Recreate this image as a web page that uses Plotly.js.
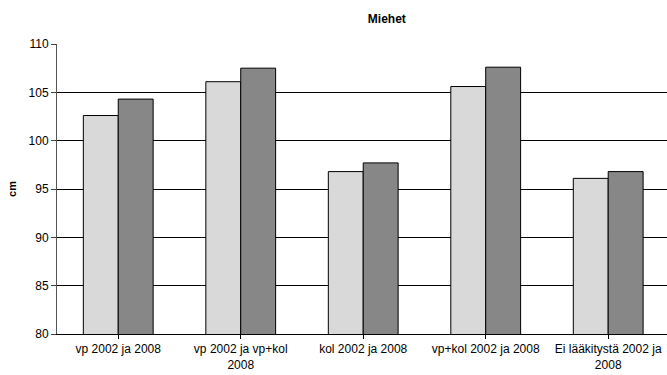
<!DOCTYPE html>
<html><head><meta charset="utf-8">
<script src="https://cdn.plot.ly/plotly-3.0.1.min.js"></script>
<style>html,body{margin:0;padding:0;overflow:hidden;background:#fff}</style>
</head><body><div id="chart" style="width:667px;height:375px"></div>
<script>
const categories = ["vp 2002 ja 2008", "vp 2002 ja vp+kol<br>2008", "kol 2002 ja 2008", "vp+kol 2002 ja 2008", "Ei lääkitystä 2002 ja<br>2008"];
const values2002 = [102.6, 106.1, 96.8, 105.6, 96.1];
const values2008 = [104.3, 107.5, 97.7, 107.6, 96.8];
const yTicks = [80, 85, 90, 95, 100, 105, 110];

const idx = categories.map((c, i) => i);
const traces = [
  {type: 'bar', name: '2002', x: idx, y: values2002,
   marker: {color: '#d9d9d9', line: {color: '#000', width: 1}}},
  {type: 'bar', name: '2008', x: idx, y: values2008,
   marker: {color: '#878787', line: {color: '#000', width: 1}}}
];
const layout = {
  width: 667, height: 375,
  margin: {l: 57, r: 0, t: 44, b: 41, pad: 0},
  paper_bgcolor: '#fff', plot_bgcolor: '#fff',
  font: {family: '"Liberation Sans", Arial, sans-serif', size: 12, color: '#000'},
  title: {text: '<b>Miehet</b>', x: 0.58, xanchor: 'center', y: 0.95, yanchor: 'middle',
          font: {size: 12, color: '#000'}},
  showlegend: false,
  barmode: 'group', bargap: 0.43, bargroupgap: 0,
  xaxis: {
    range: [-0.5, 4.48], tickmode: 'array', tickvals: idx, ticktext: categories,
    tickson: 'boundaries', ticks: 'outside', ticklen: 4, tickcolor: '#000',
    showline: true, linecolor: '#000', linewidth: 1, showgrid: false, zeroline: false,
    tickfont: {size: 12, color: '#000'}
  },
  yaxis: {
    range: [80, 110], tickvals: yTicks, ticks: 'outside', ticklen: 5, tickcolor: '#444',
    showline: true, linecolor: '#555', linewidth: 1,
    showgrid: true, gridcolor: '#000', gridwidth: 1, zeroline: false,
    tickfont: {size: 12, color: '#000'},
    title: {text: '<b>cm</b>', font: {size: 11, color: '#000'}, standoff: 9}
  }
};
Plotly.newPlot('chart', traces, layout, {displayModeBar: false, staticPlot: true});
</script></body></html>
